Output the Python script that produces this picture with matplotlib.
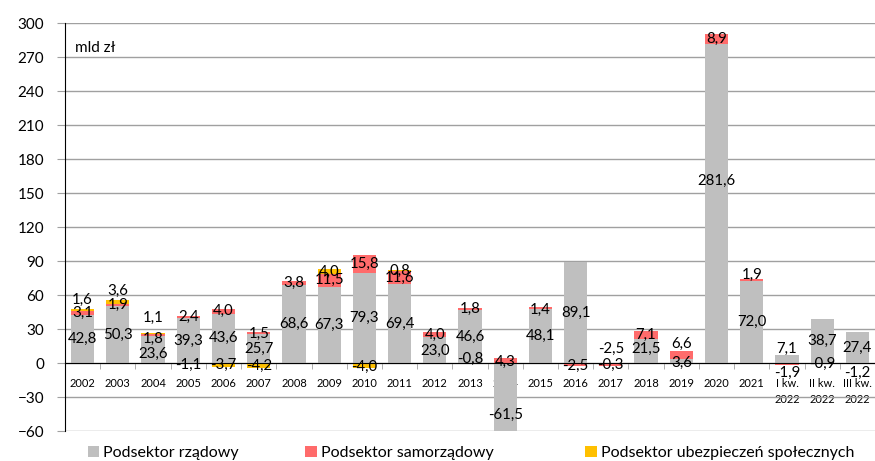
import numpy as np
import matplotlib
matplotlib.use('Agg')
import matplotlib.pyplot as plt
from matplotlib.ticker import MultipleLocator, FixedLocator
from matplotlib.patches import Patch

plt.rcParams['font.family'] = ['Lato', 'DejaVu Sans']

# dane (mld zł)
kategorie = ['2002', '2003', '2004', '2005', '2006', '2007', '2008', '2009',
             '2010', '2011', '2012', '2013', '2014', '2015', '2016', '2017',
             '2018', '2019', '2020', '2021', 'I kw.\n2022', 'II kw.\n2022',
             'III kw.\n2022']
rzadowy = [42.8, 50.3, 23.6, 39.3, 43.6, 25.7, 68.6, 67.3, 79.3, 69.4, 23.0,
           46.6, -61.5, 48.1, 89.1, -0.3, 21.5, 3.6, 281.6, 72.0, 7.1, 38.7, 27.4]
samorzadowy = [3.1, 1.9, 1.8, 2.4, 4.0, 1.5, 3.8, 11.5, 15.8, 11.6, 4.0,
               1.8, 4.3, 1.4, -2.5, -2.5, 7.1, 6.6, 8.9, 1.9, -1.9, -0.9, -1.2]
ubezpieczenia = [1.6, 3.6, 1.1, -1.1, -3.7, -4.2, 0, 4.0, -4.0, 0.8, 0,
                 -0.8, 0, 0, 0, 0, 0, 0, 0, 0, 0, 0, 0]

serie = [('Podsektor rządowy', rzadowy, '#BFBFBF'),
         ('Podsektor samorządowy', samorzadowy, '#FF6B6B'),
         ('Podsektor ubezpieczeń społecznych', ubezpieczenia, '#FFC000')]

# przesunięcia etykiet (jednostki osi), (kategoria, seria) -> dy
przesun = {(0, 2): 9, (1, 2): 10, (2, 2): 14, (2, 1): -3, (2, 0): -4,
           (5, 1): -1, (11, 2): 4, (12, 0): -15, (15, 1): 14, (15, 0): -1.5,
           (17, 1): 10, (17, 0): -2, (18, 0): 20, (19, 1): 5, (20, 0): 9,
           (20, 1): -8, (22, 1): -8, (10, 0): -1, (16, 0): 2, (13, 1): -2,
           (12, 1): -1, (3, 2): -1.3, (8, 2): -1.5, (14, 1): -1.5}

fig = plt.figure(figsize=(8.75, 4.61), dpi=100)
ax = fig.add_axes([0.0743, 0.065, 0.9257, 0.885])

x = np.arange(len(kategorie))
pos_base = np.zeros(len(x))
neg_base = np.zeros(len(x))
for si, (nazwa, vals, kolor) in enumerate(serie):
    v = np.array(vals, dtype=float)
    bottom = np.where(v >= 0, pos_base, neg_base)
    ax.bar(x, v, bottom=bottom, width=0.66, color=kolor, label=nazwa, zorder=3)
    for i in x:
        if v[i] == 0:
            continue
        yc = bottom[i] + v[i] / 2 + przesun.get((i, si), 0)
        ax.text(i, yc, f'{v[i]:.1f}'.replace('.', ','), ha='center', va='center',
                fontsize=10.8, color='black', zorder=5)
    pos_base = pos_base + np.where(v > 0, v, 0)
    neg_base = neg_base + np.where(v < 0, v, 0)

ax.set_xlim(-0.5, len(x) - 0.5)
ax.set_ylim(-60, 300)
ax.yaxis.set_major_locator(MultipleLocator(30))
ax.grid(axis='y', color='#A0A0A0', linewidth=1, zorder=0)
ax.set_axisbelow(True)

for s in ['top', 'right']:
    ax.spines[s].set_visible(False)
ax.spines['left'].set_color('black')
ax.spines['bottom'].set_position(('data', 0))
ax.spines['bottom'].set_color('black')
ax.spines['bottom'].set_zorder(4)

ax.set_xticks(x)
ax.set_xticklabels(kategorie, fontsize=8, linespacing=1.5)
ax.xaxis.set_minor_locator(FixedLocator(np.arange(-0.5, len(x), 1.0)))
ax.tick_params(axis='x', which='major', length=0, pad=11)
ax.tick_params(axis='x', which='minor', length=4, color='#A0A0A0')
ax.tick_params(axis='y', length=6, color='#A0A0A0', labelsize=11, pad=9)
for lbl in ax.get_xticklabels():
    lbl.set_verticalalignment('top')

ax.text(0.012, 0.955, 'mld zł', transform=ax.transAxes, fontsize=11,
        ha='left', va='top')

# legenda - trzy osobne pozycje jak w oryginale
leg_x = [0.100, 0.349, 0.669]
for (nazwa, _, kolor), lx in zip(serie, leg_x):
    fig.legend(handles=[Patch(facecolor=kolor, label=nazwa)], loc='center left',
               bbox_to_anchor=(lx, 0.0175), frameon=False, fontsize=11.5,
               handlelength=0.7, handleheight=0.7, handletextpad=0.3,
               borderpad=0, borderaxespad=0)

plt.savefig('out.png', dpi=100)
plt.close()
